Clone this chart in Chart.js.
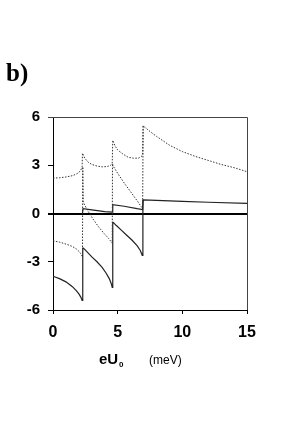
<!DOCTYPE html>
<html>
<head>
<meta charset="utf-8">
<script src="https://cdn.jsdelivr.net/npm/chart.js@4"></script>
<style>
  html, body { margin: 0; padding: 0; background: #fff; }
  #wrap { position: relative; width: 300px; height: 427px; }
</style>
</head>
<body>
<div id="wrap"><canvas id="chart" width="300" height="427"></canvas></div>
<script>
/* ---------- data ---------- */
const xTicks = [0, 5, 10, 15];
const yTicks = [-6, -3, 0, 3, 6];

// upper dotted curve
const dotUpX = [0, 0.5, 1.0, 1.5, 1.8, 2.0, 2.15, 2.25, 2.28, 2.45, 2.7, 3.0, 3.4, 3.8, 4.2, 4.45, 4.58, 4.62, 4.8, 5.0, 5.4, 5.8, 6.2, 6.6, 6.85, 6.93, 6.97, 7.5, 8, 9, 10, 11, 12, 13, 14, 15];
const dotUpY = [2.2, 2.22, 2.27, 2.35, 2.45, 2.55, 2.7, 2.9, 3.75, 3.45, 3.2, 3.05, 2.95, 2.9, 2.92, 3.0, 3.1, 4.55, 4.2, 3.95, 3.7, 3.5, 3.44, 3.44, 3.55, 3.7, 5.45, 5.1, 4.8, 4.25, 3.85, 3.55, 3.3, 3.05, 2.85, 2.6];

// lower dotted curve
const dotLoX = [0, 0.5, 1.0, 1.5, 1.8, 2.0, 2.15, 2.28, 2.3, 2.34, 2.7, 3.1, 3.5, 3.9, 4.3, 4.58, 4.6, 4.65, 5.0, 5.5, 6.0, 6.5, 6.93, 6.97];
const dotLoY = [-1.7, -1.78, -1.9, -2.05, -2.2, -2.35, -2.5, -2.7, 2.9, 0.7, 0.15, -0.35, -0.8, -1.2, -1.55, -1.85, 3.1, 2.95, 2.5, 1.9, 1.35, 0.8, 0.3, 5.45];

// lower solid curve
const solLoX = [0, 0.5, 1.0, 1.5, 1.8, 2.0, 2.15, 2.25, 2.3, 2.35, 2.6, 3.0, 3.4, 3.8, 4.1, 4.35, 4.5, 4.58, 4.62, 4.65, 4.9, 5.3, 5.7, 6.1, 6.5, 6.75, 6.9, 6.95];
const solLoY = [-3.9, -4.05, -4.25, -4.55, -4.8, -5.0, -5.2, -5.4, -2.15, -2.15, -2.35, -2.7, -3.0, -3.35, -3.7, -4.05, -4.35, -4.6, -0.55, -0.55, -0.75, -1.05, -1.35, -1.65, -2.0, -2.3, -2.6, 0.85];

// upper solid curve
const solUpX = [2.28, 2.32, 3.0, 4.0, 4.58, 4.62, 5.5, 6.5, 6.93, 6.97, 8, 10, 12, 15];
const solUpY = [0, 0.3, 0.22, 0.12, 0.08, 0.55, 0.45, 0.3, 0.25, 0.85, 0.82, 0.76, 0.7, 0.63];

const pts = (xs, ys) => xs.map((x, i) => ({ x, y: ys[i] }));

/* ---------- extra drawing: frame, panel letter, axis title ---------- */
const decorPlugin = {
  id: "decor",
  afterDraw(chart) {
    const { ctx, chartArea: a } = chart;
    ctx.save();
    // top + right border
    ctx.strokeStyle = "#444";
    ctx.lineWidth = 1;
    ctx.beginPath();
    ctx.moveTo(a.left - 5, a.top + 0.5);
    ctx.lineTo(a.right + 0.5, a.top + 0.5);
    ctx.lineTo(a.right + 0.5, a.bottom);
    ctx.stroke();

    ctx.fillStyle = "#000";
    ctx.textBaseline = "alphabetic";
    ctx.textAlign = "left";
    ctx.font = "bold 25px 'Liberation Serif'";
    ctx.fillText("b)", 6, 81);

    ctx.font = "bold 15px 'Liberation Sans'";
    ctx.fillText("eU", 99, 364);
    ctx.font = "bold 8px 'Liberation Sans'";
    ctx.fillText("0", 119, 367);
    ctx.font = "12px 'Liberation Sans'";
    ctx.fillText("(meV)", 149, 364);
    ctx.restore();
  },
};

const dotted = { borderColor: "#333", borderWidth: 1, borderDash: [1.5, 1.5], pointRadius: 0, tension: 0, fill: false };
const solid = { borderColor: "#222", borderWidth: 1.2, pointRadius: 0, tension: 0, fill: false };

new Chart(document.getElementById("chart"), {
  type: "line",
  data: {
    datasets: [
      { label: "dotted upper", data: pts(dotUpX, dotUpY), ...dotted },
      { label: "dotted lower", data: pts(dotLoX, dotLoY), ...dotted },
      { label: "solid lower", data: pts(solLoX, solLoY), ...solid },
      { label: "solid upper", data: pts(solUpX, solUpY), ...solid },
    ],
  },
  options: {
    responsive: false,
    animation: false,
    layout: { padding: { left: 0, right: 53, top: 117, bottom: 67 } },
    plugins: { legend: { display: false }, tooltip: { enabled: false } },
    scales: {
      x: {
        type: "linear",
        min: 0,
        max: 15,
        afterBuildTicks: (s) => { s.ticks = xTicks.map((v) => ({ value: v })); },
        afterFit: (s) => { s.height = 50; },
        ticks: { color: "#000", font: { family: "'Liberation Sans'", size: 16, weight: "bold" }, padding: 9, maxRotation: 0 },
        grid: { drawOnChartArea: false, drawTicks: true, tickLength: 4, color: "#000" },
        border: { display: true, color: "#000", width: 1 },
      },
      y: {
        type: "linear",
        min: -6,
        max: 6,
        afterBuildTicks: (s) => { s.ticks = yTicks.map((v) => ({ value: v })); },
        afterFit: (s) => { s.width = 53; },
        ticks: { color: "#000", font: { family: "'Liberation Sans'", size: 15, weight: "bold" }, padding: 8 },
        grid: {
          drawOnChartArea: true,
          drawTicks: true,
          tickLength: 5,
          tickColor: "#000",
          color: (c) => (c.tick && c.tick.value === 0 ? "#000" : "rgba(0,0,0,0)"),
          lineWidth: (c) => (c.tick && c.tick.value === 0 ? 2 : 1),
        },
        border: { display: true, color: "#000", width: 1 },
      },
    },
  },
  plugins: [decorPlugin],
});
</script>
</body>
</html>
